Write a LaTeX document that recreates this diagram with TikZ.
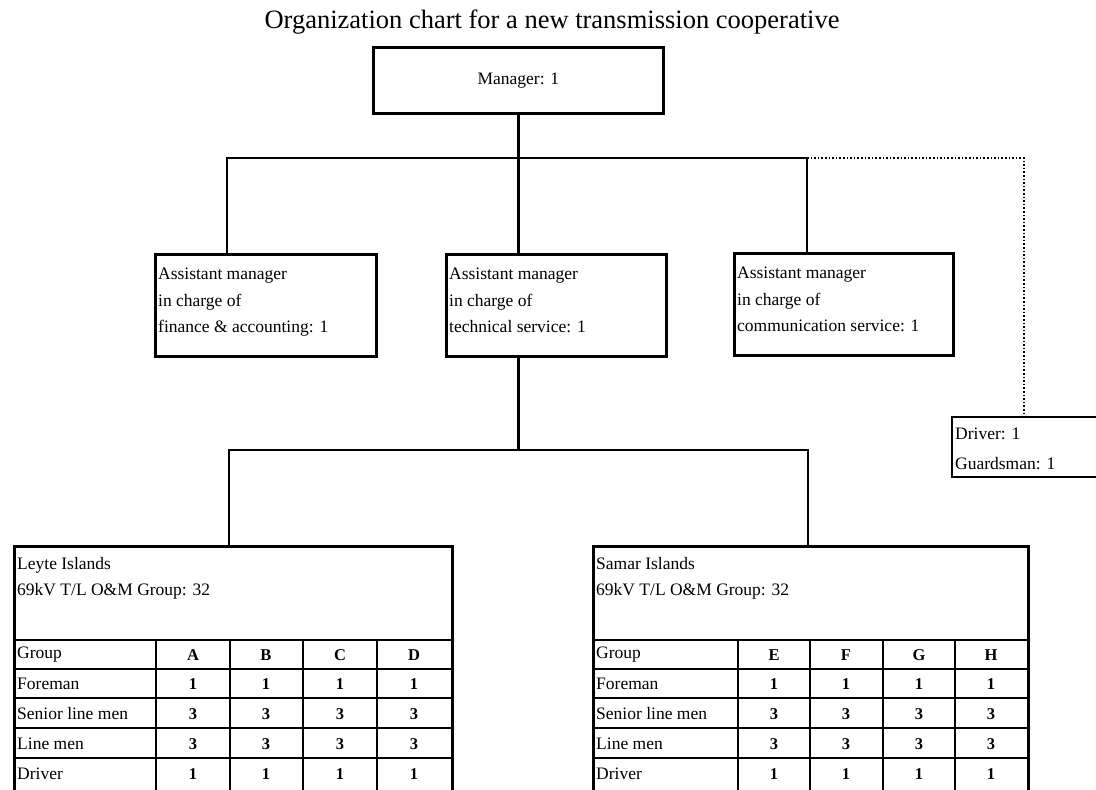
\documentclass[tikz,border=0pt]{standalone}
\usepackage{fontspec}
\setmainfont{Liberation Serif}
\usetikzlibrary{positioning}

\tikzset{
  unitbox/.style={draw, line width=2.8pt, rectangle, inner sep=0pt, anchor=north west},
  staffbox/.style={draw, line width=1.6pt, rectangle, inner sep=0pt, anchor=north west},
  boxtext/.style={anchor=north west, inner sep=0pt, align=left,
    font=\fontsize{17.5}{26.5}\selectfont},
  cell/.style={inner sep=0pt, font=\fontsize{17.5}{18}\selectfont},
  valcell/.style={inner sep=0pt, font=\bfseries\fontsize{16.5}{18}\selectfont},
  link/.style={line width=2.6pt},
  gridline/.style={line width=1.4pt},
  colline/.style={line width=2pt},
}

\begin{document}
\begin{tikzpicture}[x=1pt, y=-1pt]
		\useasboundingbox (0,0) rectangle (1096,790);
		\clip (0,0) rectangle (1096,790);

		% Title
		\node [font=\fontsize{26.5}{30}\selectfont] (title) at (552,22) {Organization chart for a new transmission cooperative};

		% Manager
		\node [unitbox, minimum width=290, minimum height=66,
		  font=\fontsize{17.5}{18}\selectfont] (manager) at (372,46) {Manager: 1};

		% Assistant managers
		\node [unitbox, minimum width=221, minimum height=102] (finance) at (154,253) {};
		\node [boxtext] (financetext) at (158,268) {Assistant manager\\in charge of\\finance \& accounting: 1};
		\node [unitbox, minimum width=220, minimum height=102] (technical) at (445,253) {};
		\node [boxtext] (technicaltext) at (449,268) {Assistant manager\\in charge of\\technical service: 1};
		\node [unitbox, minimum width=219, minimum height=102] (communication) at (733,252) {};
		\node [boxtext] (communicationtext) at (737,267) {Assistant manager\\in charge of\\communication service: 1};

		% Driver / guardsman
		\node [staffbox, minimum width=200, minimum height=60] (driver) at (951,416) {};
		\node [boxtext, font=\fontsize{17.5}{30}\selectfont] (drivertext) at (955,428) {Driver: 1\\Guardsman: 1};

		% Bus below the manager
		\coordinate (busL) at (227,158);
		\coordinate (busR) at (807,158);
		\coordinate (busD) at (1024,158);
		\draw [link] (manager.south) -- (manager.south |- technical.north);
		\draw [link] (finance.north -| busL) -- (busL) -- (busR) -- (communication.north -| busR);
		\draw [line width=1.6pt, dotted] (busR) -- (busD) -- (driver.north -| busD);

		% Groups (tables)
		\node [unitbox, minimum width=438, minimum height=250] (leyte) at (13,545) {};
		\node [boxtext] (leytetext) at (17,557) {Leyte Islands\\69kV T/L O\&M Group: 32};
		\node [unitbox, minimum width=435, minimum height=250] (samar) at (592,545) {};
		\node [boxtext] (samartext) at (596,557) {Samar Islands\\69kV T/L O\&M Group: 32};

		% Bus below technical service
		\coordinate (dropL) at (229,450);
		\coordinate (dropR) at (808,450);
		\draw [link] (technical.south -| manager.south) -- (manager.south |- dropL);
		\draw [link] (leyte.north -| dropL) -- (dropL) -- (dropR) -- (samar.north -| dropR);

		% Rows
		\foreach \y in {640,669,698,728,758} {
		  \draw [gridline] (13,\y) -- (451,\y);
		  \draw [gridline] (592,\y) -- (1027,\y);
		}
		\foreach \x in {156,230,303,377} \draw [colline] (\x,640) -- (\x,795);
		\foreach \x in {738,810,883,955} \draw [colline] (\x,640) -- (\x,795);

		% Row labels
		\foreach \lab/\y in {Group/655,Foreman/684,Senior line men/714,Line men/744,Driver/774} {
		  \node [cell, anchor=west] (L-\y) at (17,\y) {\lab};
		  \node [cell, anchor=west] (R-\y) at (596,\y) {\lab};
		}

		% Columns
		\foreach \col/\x in {A/193,B/266,C/340,D/414} {
		  \node [valcell] (L-\col) at (\x,655) {\col};
		  \foreach \v/\y in {1/684,3/714,3/744,1/774}
		    \node [valcell] (L-\col-\y) at (\x,\y) {\v};
		}
		\foreach \col/\x in {E/774,F/846,G/919,H/991} {
		  \node [valcell] (R-\col) at (\x,655) {\col};
		  \foreach \v/\y in {1/684,3/714,3/744,1/774}
		    \node [valcell] (R-\col-\y) at (\x,\y) {\v};
		}
	\end{tikzpicture}
\end{document}
